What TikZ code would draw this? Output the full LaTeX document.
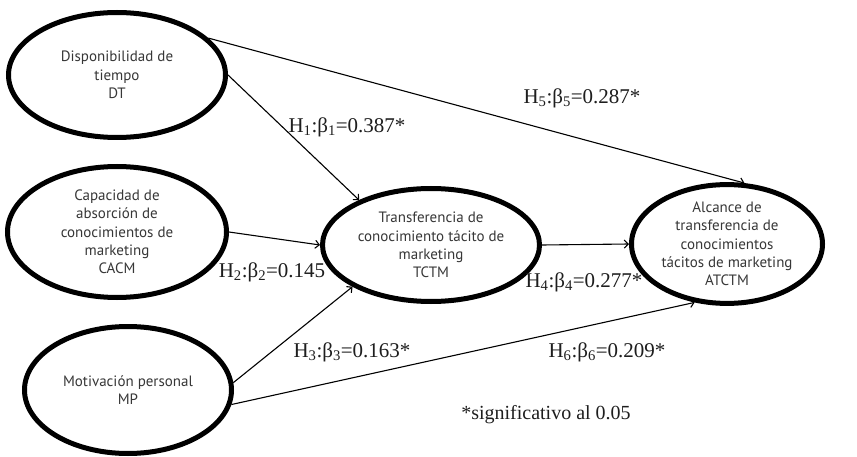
\documentclass[tikz,border=0pt]{standalone}
\usepackage{fontspec}
\setmainfont{Liberation Serif}
\newfontfamily\ellfont{PT Sans}
\usetikzlibrary{shapes.geometric,arrows.meta}
\definecolor{elltext}{RGB}{55,55,55}
\definecolor{labtext}{RGB}{30,30,30}
\begin{document}
\begin{tikzpicture}[x=1pt,y=-1pt,
  latent/.style={ellipse, draw, line width=5pt, inner sep=0pt, align=center,
    font=\ellfont\fontsize{15}{18.3}\selectfont, text=elltext},
  relpath/.style={-{Straight Barb[length=4pt,width=8pt]}, line width=1.1pt},
  coef/.style={font=\fontsize{21}{24}\selectfont, inner sep=0pt, text=labtext}]
\useasboundingbox[fill=white] (0,0) rectangle (857,457);

\node[latent, minimum width=217pt, minimum height=125pt] (dt) at (117,75) {Disponibilidad de\\tiempo\\DT};
\node[latent, minimum width=219pt, minimum height=131pt] (cacm) at (117,232) {Capacidad de\\absorción de\\conocimientos de\\marketing\\CACM};
\node[latent, minimum width=207pt, minimum height=127pt] (mp) at (128,390) {Motivación personal\\MP};
\node[latent, minimum width=217pt, minimum height=113pt] (tctm) at (431,245) {Transferencia de\\conocimiento tácito de\\marketing\\TCTM};
\node[latent, minimum width=191pt, minimum height=109pt] (atctm) at (727,244) {Alcance de\\transferencia de\\conocimientos\\tácitos de marketing\\ATCTM};

\draw[relpath] (dt.22) -- (atctm.74);
\draw[relpath] (dt.east) -- (tctm.148);
\draw[relpath] (cacm.east) -- (tctm.west);
\draw[relpath] (mp.4) -- (tctm.208);
\draw[relpath] (mp.-8) -- (atctm.241);
\draw[relpath] (tctm.east) -- (atctm.west);

\node[coef] (h1) at (347,127) {H\textsubscript{1}:β\textsubscript{1}=0.387*};
\node[coef] (h2) at (272,272) {H\textsubscript{2}:β\textsubscript{2}=0.145};
\node[coef] (h3) at (352,352) {H\textsubscript{3}:β\textsubscript{3}=0.163*};
\node[coef] (h4) at (584,282) {H\textsubscript{4}:β\textsubscript{4}=0.277*};
\node[coef] (h5) at (582,98) {H\textsubscript{5}:β\textsubscript{5}=0.287*};
\node[coef] (h6) at (607,352) {H\textsubscript{6}:β\textsubscript{6}=0.209*};
\node[coef, font=\fontsize{20}{24}\selectfont] (sig) at (546,415) {*significativo al 0.05};
\end{tikzpicture}
\end{document}
